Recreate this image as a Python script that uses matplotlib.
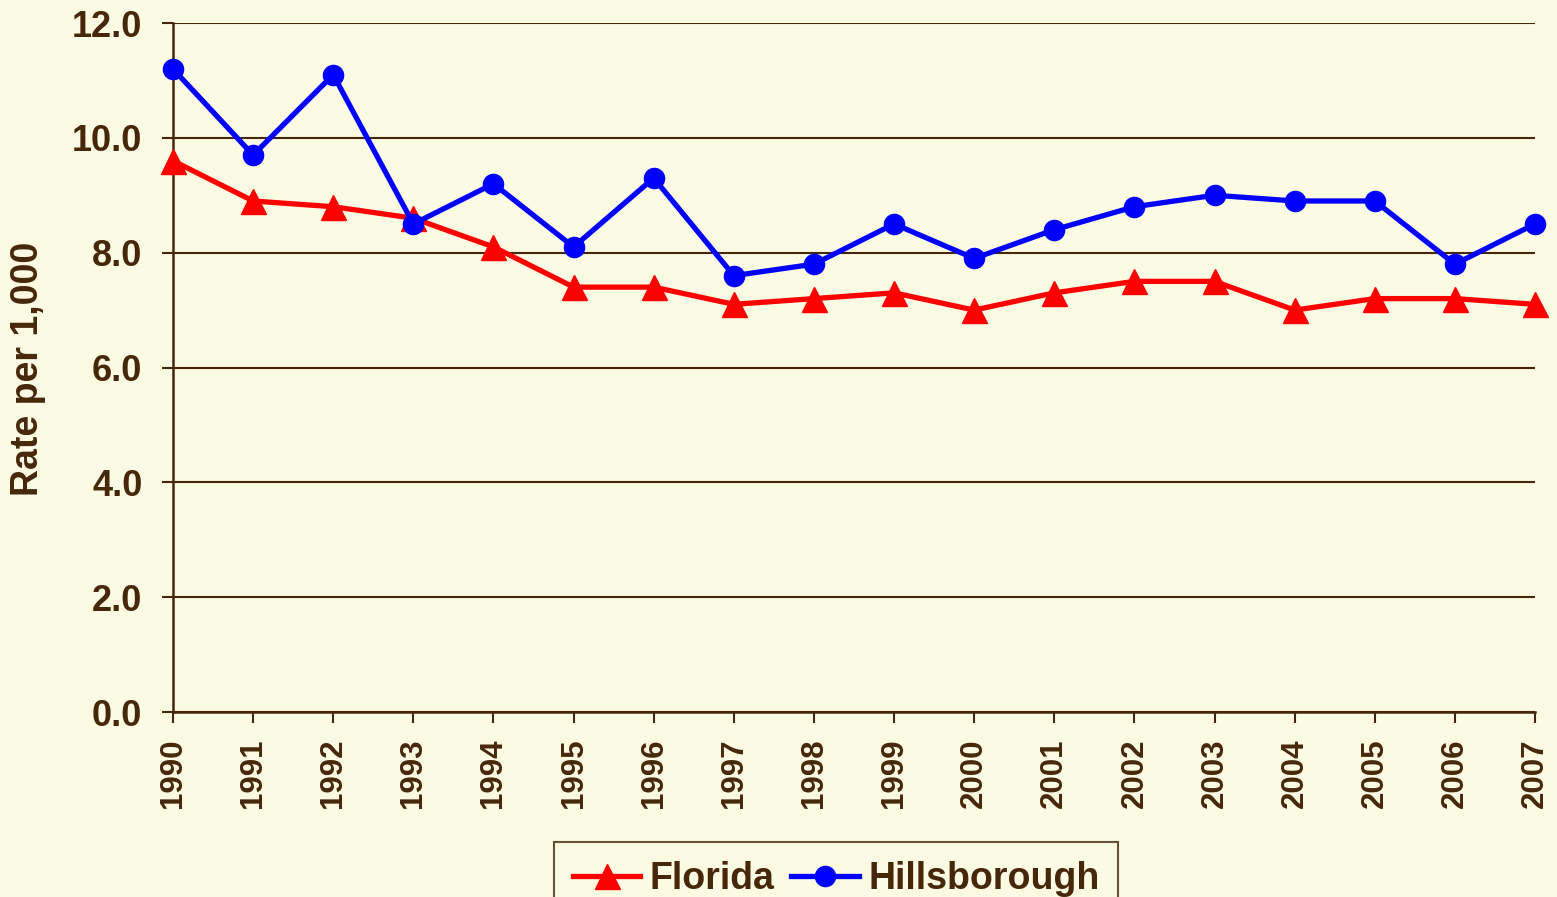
import matplotlib
matplotlib.use("Agg")
import matplotlib.pyplot as plt

years = [str(y) for y in range(1990, 2008)]
florida = [9.6, 8.9, 8.8, 8.6, 8.1, 7.4, 7.4, 7.1, 7.2, 7.3, 7.0, 7.3, 7.5, 7.5, 7.0, 7.2, 7.2, 7.1]
hillsborough = [11.2, 9.7, 11.1, 8.5, 9.2, 8.1, 9.3, 7.6, 7.8, 8.5, 7.9, 8.4, 8.8, 9.0, 8.9, 8.9, 7.8, 8.5]
y_ticks = [0, 2, 4, 6, 8, 10, 12]

BG = "#FBFAE3"
INK = "#472709"

plt.rcParams["font.family"] = ["Liberation Sans", "DejaVu Sans"]
plt.rcParams["font.weight"] = "bold"

fig = plt.figure(figsize=(15.57, 8.97), dpi=100)
fig.patch.set_facecolor(BG)
ax = fig.add_axes([173 / 1557, 1 - 712 / 897, (1535 - 173) / 1557, (712 - 23) / 897])
ax.set_facecolor(BG)

x = list(range(len(years)))
ax.plot(x, florida, color="#FF0000", lw=3.8, marker="^", markersize=18,
        label="Florida", clip_on=False, zorder=3)
ax.plot(x, hillsborough, color="#0000FF", lw=3.8, marker="o", markersize=14.5,
        label="Hillsborough", clip_on=False, zorder=4)

ax.set_xlim(0, len(years) - 1)
ax.set_ylim(0, 12)
ax.set_xticks(x)
ax.set_xticklabels(years, rotation=90, fontsize=22.5, fontweight="bold", color=INK)
ax.set_yticks(y_ticks)
ax.set_yticklabels([f"{v:.1f}" for v in y_ticks], fontsize=26, fontweight="bold", color=INK)
ax.tick_params(axis="y", length=8, width=1.5, color=INK, pad=14)
ax.tick_params(axis="x", length=8, width=1.5, color=INK, pad=11)

ax.grid(axis="y", color=INK, lw=1.5)
ax.set_axisbelow(True)
for side in ["top", "right"]:
    ax.spines[side].set_visible(False)
for side in ["left", "bottom"]:
    ax.spines[side].set_color(INK)
    ax.spines[side].set_linewidth(1.8)

fig.text(28 / 1557, 1 - 369 / 897, "Rate per 1,000", rotation=90, ha="center", va="center",
         fontsize=27, fontweight="bold", color=INK)

leg = fig.legend(loc="upper left", bbox_to_anchor=(554 / 1557, 1 - 842 / 897), ncol=2,
                 fontsize=27, frameon=True, fancybox=False, handlelength=1.8,
                 handletextpad=0.25, columnspacing=0.45, borderpad=0.5, borderaxespad=0)
leg.get_frame().set_edgecolor(INK)
leg.get_frame().set_facecolor(BG)
leg.get_frame().set_linewidth(1.5)
for t in leg.get_texts():
    t.set_color(INK)
    t.set_fontweight("bold")

fig.savefig("out.png", facecolor=BG)
